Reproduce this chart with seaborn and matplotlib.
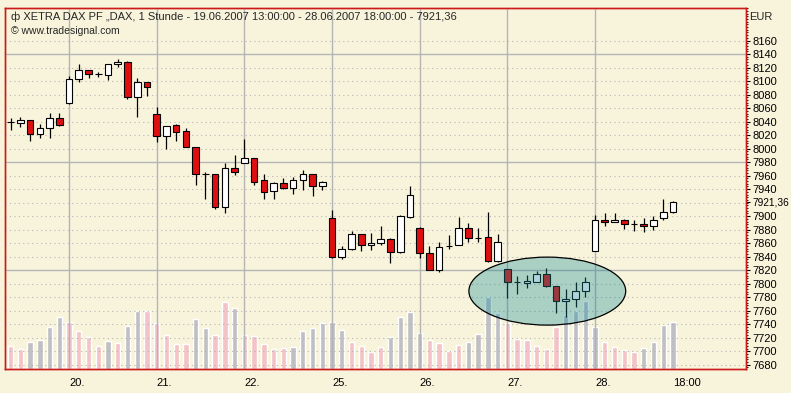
"""DAX hourly candles with volume overlay, tradesignal style."""
import matplotlib

matplotlib.use("Agg")

import matplotlib.pyplot as plt
import numpy as np
import pandas as pd
import seaborn as sns
from matplotlib.patches import Ellipse
from matplotlib.ticker import FixedLocator, MultipleLocator

# --- data ---
opens = [8039, 8038, 8042, 8021, 8030, 8045,
         8067, 8103, 8116, 8110, 8109, 8125, 8129, 8077, 8098,
         8051, 8019, 8035, 8026, 8002, 7963, 7962, 7914, 7972,
         7978, 7986, 7953, 7937, 7949, 7941, 7953, 7962, 7944,
         7898, 7839, 7851, 7873, 7857, 7860, 7866, 7847, 7899,
         7883, 7845, 7820, 7856, 7857, 7883, 7868, 7869, 7833,
         7822, 7802, 7801, 7803, 7814, 7796, 7774, 7777, 7789,
         7848, 7895, 7892, 7895, 7888, 7889, 7885, 7897, 7906]
highs = [8045, 8047, 8043, 8036, 8053, 8053,
         8108, 8125, 8116, 8114, 8126, 8132, 8130, 8104, 8099,
         8061, 8034, 8037, 8030, 8003, 7965, 7963, 7979, 7990,
         8014, 7986, 7962, 7951, 7957, 7958, 7968, 7963, 7952,
         7909, 7856, 7878, 7874, 7875, 7885, 7867, 7902, 7945,
         7884, 7856, 7861, 7872, 7899, 7890, 7882, 7906, 7873,
         7822, 7812, 7813, 7819, 7823, 7797, 7792, 7802, 7810,
         7902, 7904, 7904, 7896, 7895, 7897, 7900, 7925, 7922]
lows = [8027, 8032, 8012, 8016, 8016, 8034,
        8066, 8098, 8104, 8106, 8101, 8121, 8074, 8047, 8078,
        8010, 8000, 8012, 8002, 7946, 7926, 7910, 7905, 7961,
        7978, 7946, 7926, 7926, 7940, 7933, 7938, 7930, 7938,
        7838, 7836, 7850, 7849, 7850, 7857, 7830, 7846, 7898,
        7838, 7820, 7818, 7852, 7857, 7861, 7862, 7832, 7832,
        7779, 7785, 7793, 7802, 7795, 7757, 7751, 7766, 7781,
        7848, 7886, 7891, 7881, 7878, 7876, 7880, 7895, 7905]
closes = [8039, 8042, 8021, 8030, 8045, 8035,
          8103, 8116, 8110, 8110, 8125, 8129, 8077, 8098, 8091,
          8019, 8033, 8025, 8003, 7963, 7963, 7914, 7972, 7965,
          7986, 7951, 7936, 7949, 7941, 7953, 7962, 7944, 7950,
          7839, 7851, 7873, 7857, 7860, 7866, 7847, 7900, 7931,
          7845, 7821, 7855, 7856, 7883, 7867, 7868, 7833, 7861,
          7803, 7802, 7804, 7814, 7796, 7774, 7777, 7789, 7802,
          7895, 7892, 7895, 7888, 7888, 7885, 7895, 7906, 7921.36]
volume = [23, 20, 27, 29, 42, 52,
          47, 38, 32, 23, 28, 26, 43, 58, 58,
          46, 34, 25, 25, 50, 41, 34, 67, 61,
          34, 33, 25, 20, 21, 22, 38, 41, 46,
          47, 39, 27, 23, 17, 22, 32, 52, 57,
          36, 29, 26, 18, 24, 27, 35, 72, 56,
          46, 30, 29, 23, 20, 42, 54, 58, 68,
          42, 27, 22, 19, 17, 21, 27, 44, 47]
# volume bar colour per hour: p = pink (falling), g = grey (rising)
vol_flags = ("ppgggg"
             "ppppgpggp" "ppppggppg" "pppppgggg" "ggppppggg"
             "gppppgggg" "ppppppggg" "gppppgggg")
day_labels = ["20.", "21.", "22.", "25.", "26.", "27.", "28.", "18:00"]
day_starts = [6, 15, 24, 33, 42, 51, 60, 68]
last_price = 7921.36

FIG_BG = "#f8f4dc"
PLOT_BG = "#f6f6f6"
RED = "#e00f0f"
PINK = "#f3c3c8"
GREY = "#bfbfc4"
GRID = "#b4b4b4"
BORDER = "#cc1a1a"

sns.set_style("white")
plt.rcParams["font.family"] = ["Liberation Sans", "DejaVu Sans"]
plt.rcParams["font.size"] = 8

n = len(opens)
idx = np.arange(n)
o = np.array(opens)
c = np.array(closes)
up = c >= o

fig = plt.figure(figsize=(7.91, 3.93), dpi=100, facecolor=FIG_BG)
ax = fig.add_axes([5 / 791, (393 - 368.5) / 393, 741 / 791, 361 / 393])
ax2 = ax.twinx()

# volume on the twin axis, behind the candles
vol_df = pd.DataFrame({"bar": idx, "volume": volume,
                       "dir": ["down" if f == "p" else "up" for f in vol_flags]})
sns.barplot(data=vol_df, x="bar", y="volume", hue="dir",
            palette={"down": PINK, "up": GREY}, dodge=False, native_scale=True,
            width=0.55, saturation=1, legend=False, ax=ax2)
ax2.set_ylim(0, 361)
ax2.set_yticks([])
ax2.set_xlabel("")
ax2.set_ylabel("")
ax2.set_facecolor(PLOT_BG)
ax.set_zorder(ax2.get_zorder() + 1)
ax.patch.set_visible(False)

# grid
for y in range(7680, 8161, 20):
    if (y - 7820) % 160 == 0:
        ax.axhline(y, color=GRID, lw=1, zorder=0)
    else:
        ax.axhline(y, color=GRID, lw=0.8, ls=(0, (1, 3)), zorder=0)
for d in day_starts[:-1]:
    ax.axvline(d, color=GRID, lw=1, zorder=0)

# candles
ax.vlines(idx, lows, highs, color="black", lw=0.9, zorder=2)
ax.bar(idx, np.abs(c - o), bottom=np.minimum(o, c), width=0.68,
       color=np.where(up, "white", RED), edgecolor="black", lw=0.8, zorder=3)

# highlighted area
ax.add_patch(Ellipse((55.1, 7789), 16.1, 100.7, facecolor="#198b97", alpha=0.35,
                     edgecolor="none", zorder=4))
ax.add_patch(Ellipse((55.1, 7789), 16.1, 100.7, facecolor="none",
                     edgecolor="black", lw=0.9, zorder=5))

ax.set_xlim(-0.575, 75.5)
ax.set_ylim(7674.4, 8209)

for a in (ax, ax2):
    for s in a.spines.values():
        s.set_color(BORDER)
        s.set_linewidth(1)

ax.yaxis.tick_right()
yt = [v for v in range(7680, 8161, 20) if v != 7920] + [last_price]
ax.set_yticks(yt)
ax.set_yticklabels([f"{v:.2f}".replace(".", ",") if v != int(v) else str(int(v)) for v in yt])
ax.yaxis.set_minor_locator(MultipleLocator(4))
ax.tick_params(axis="y", which="major", length=3, pad=1.5, colors="black", labelsize=8)
ax.tick_params(axis="y", which="minor", length=1.5, color="black")
ax.get_yticklabels()[-1].set_fontsize(7.3)

ax.set_xticks(day_starts)
ax.set_xticklabels(day_labels, ha="left")
minor_x = [s + off for s in [-3] + day_starts[:-1] for off in (2, 3, 5, 6, 8) if 0 <= s + off < n]
ax.xaxis.set_minor_locator(FixedLocator(minor_x))
ax.tick_params(axis="x", which="major", length=4, pad=3, colors="black", labelsize=8)
ax.tick_params(axis="x", which="minor", length=2, color="black")
ax2.tick_params(axis="x", which="both", bottom=False, labelbottom=False)

ax.text(0.0075, 0.99, "ф XETRA DAX PF „DAX, 1 Stunde - 19.06.2007 13:00:00 - 28.06.2007 18:00:00 - 7921,36",
        transform=ax.transAxes, ha="left", va="top", fontsize=8, zorder=6)
ax.text(0.0075, 0.948, "© www.tradesignal.com", transform=ax.transAxes,
        ha="left", va="top", fontsize=7.5, zorder=6)
fig.text(749 / 791, 1 - 12 / 393, "EUR", ha="left", va="top", fontsize=8)

fig.savefig("out.png", dpi=100, facecolor=FIG_BG)
